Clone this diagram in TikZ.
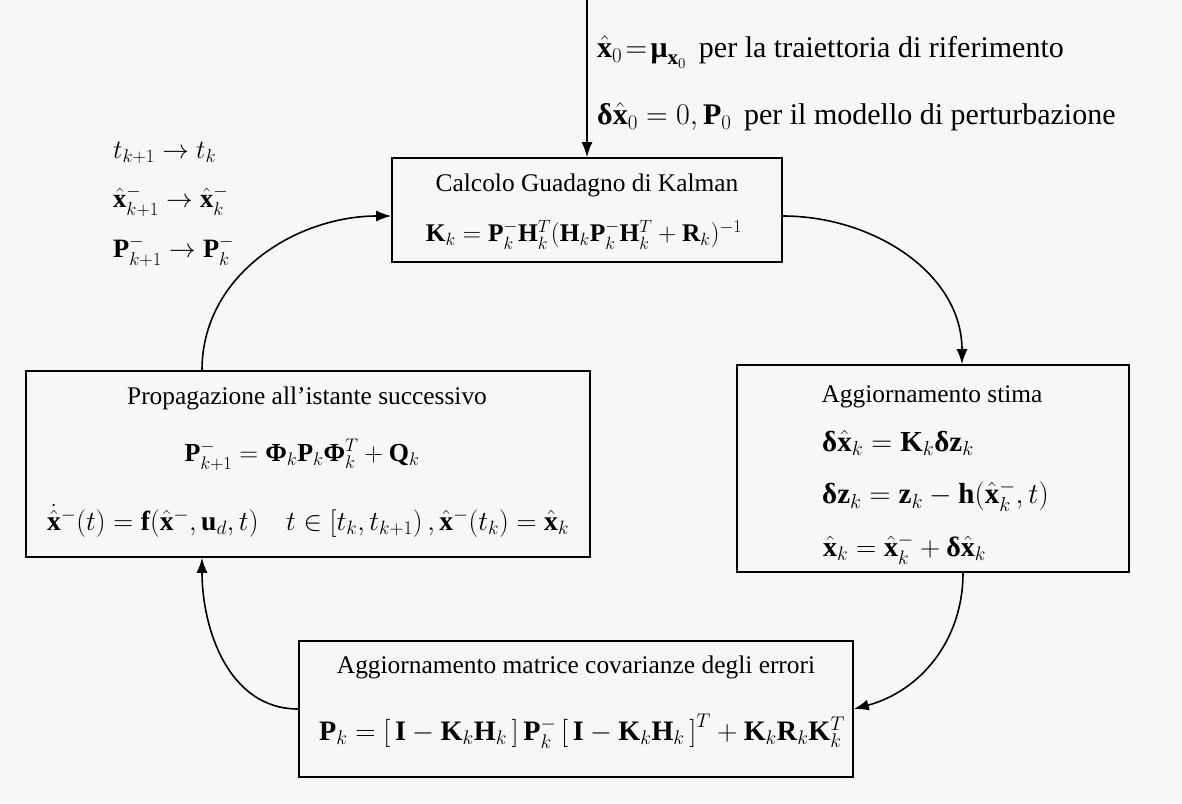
\RequirePackage{fix-cm}
\documentclass[tikz,border=0pt]{standalone}
\usepackage{amsmath}
\usepackage{fontspec}
\setmainfont{Liberation Serif}
\usetikzlibrary{arrows.meta}
\newcommand{\bdelta}{\mbox{\bfseries δ}}
\newcommand{\bPhi}{\mbox{\bfseries Φ}}
\newcommand{\bmu}{\mbox{\bfseries μ}}
\newcommand{\hx}{\hat{\mathbf{x}}}
\begin{document}
\begin{tikzpicture}[x=1pt,y=-1pt,
  box/.style={draw,line width=1.6pt,inner sep=0pt},
  txt/.style={inner sep=0pt,font=\fontsize{25.4}{30}\selectfont},
  ltxt/.style={txt,anchor=west},
  big/.style={font=\fontsize{#1}{34}\selectfont},
  arr/.style={line width=1.6pt,-{Latex[length=15pt,width=11pt]}}]
\fill[black!3] (0,0) rectangle (1182,803);
\useasboundingbox (0,0) rectangle (1182,803);
% boxes
\node[box,minimum width=390pt,minimum height=104pt] (kal) at (587,210) {};
\node[box,minimum width=564pt,minimum height=186pt] (prop) at (308,464) {};
\node[box,minimum width=392pt,minimum height=207pt] (stima) at (933,468.5) {};
\node[box,minimum width=554pt,minimum height=136pt] (cov) at (576,709) {};
% Kalman
\node[txt] (kalt) at (587,185) {Calcolo Guadagno di Kalman};
\node[txt] (kalf) at (584,235) {$\mathbf{K}_k=\mathbf{P}_k^-\mathbf{H}_k^T(\mathbf{H}_k\mathbf{P}_k^-\mathbf{H}_k^T+\mathbf{R}_k)^{-1}$};
% Propagazione
\node[txt] (propt) at (307,398) {Propagazione all’istante successivo};
\node[txt,big=26] (propf1) at (302,455) {$\mathbf{P}_{k+1}^-=\bPhi_k\mathbf{P}_k\bPhi_k^T+\mathbf{Q}_k$};
\node[txt,big=27.6] (propf2) at (308,521) {$\dot{\hx}^-(t)=\mathbf{f}(\hx^-,\mathbf{u}_d,t)\quad t\in\left[t_k,t_{k+1}\right),\hx^-(t_k)=\hx_k$};
% Aggiornamento stima
\node[txt] (stimat) at (932,397) {Aggiornamento stima};
\node[ltxt,big=29] (stimaf1) at (822,443) {$\bdelta\hx_k=\mathbf{K}_k\bdelta\mathbf{z}_k$};
\node[ltxt,big=29] (stimaf2) at (822,496) {$\bdelta\mathbf{z}_k=\mathbf{z}_k-\mathbf{h}(\hx_k^-,t)$};
\node[ltxt,big=28] (stimaf3) at (823,549) {$\hx_k=\hx_k^-+\bdelta\hx_k$};
% Covarianze
\node[txt] (covt) at (576,667) {Aggiornamento matrice covarianze degli errori};
\node[txt,big=28.2] (covf) at (582,731) {$\mathbf{P}_k=\left[\,\mathbf{I}-\mathbf{K}_k\mathbf{H}_k\,\right]\mathbf{P}_k^-\left[\,\mathbf{I}-\mathbf{K}_k\mathbf{H}_k\,\right]^T+\mathbf{K}_k\mathbf{R}_k\mathbf{K}_k^T$};
% top labels
\node[ltxt,big=30] (init1) at (597,52) {$\hx_0\!=\!\bmu_{\mathbf{x}_0}$\, per la traiettoria di riferimento};
\node[ltxt,big=30] (init2) at (597,117) {$\bdelta\hx_0=0,\mathbf{P}_0$\, per il modello di perturbazione};
% left labels
\node[ltxt,big=26.5] (l1) at (113,153) {$t_{k+1}\rightarrow t_k$};
\node[ltxt,big=26.5] (l2) at (113,201) {$\hx_{k+1}^-\rightarrow\hx_k^-$};
\node[ltxt,big=26.5] (l3) at (113,251) {$\mathbf{P}_{k+1}^-\rightarrow\mathbf{P}_k^-$};
% connectors
\coordinate (src) at (587,0);
\draw[arr] (src) -- (kal.north);
\draw[arr] ([yshift=-6pt]kal.east) to[out=0,in=90] ([xshift=29pt]stima.north);
\draw[arr] ([xshift=30pt]stima.south) to[out=-90,in=15] (cov.east);
\draw[arr] (cov.west) to[out=180,in=-90] ([xshift=-106pt]prop.south);
\draw[arr] ([xshift=-106pt]prop.north) to[out=90,in=180] ([yshift=-6pt]kal.west);
\end{tikzpicture}
\end{document}
